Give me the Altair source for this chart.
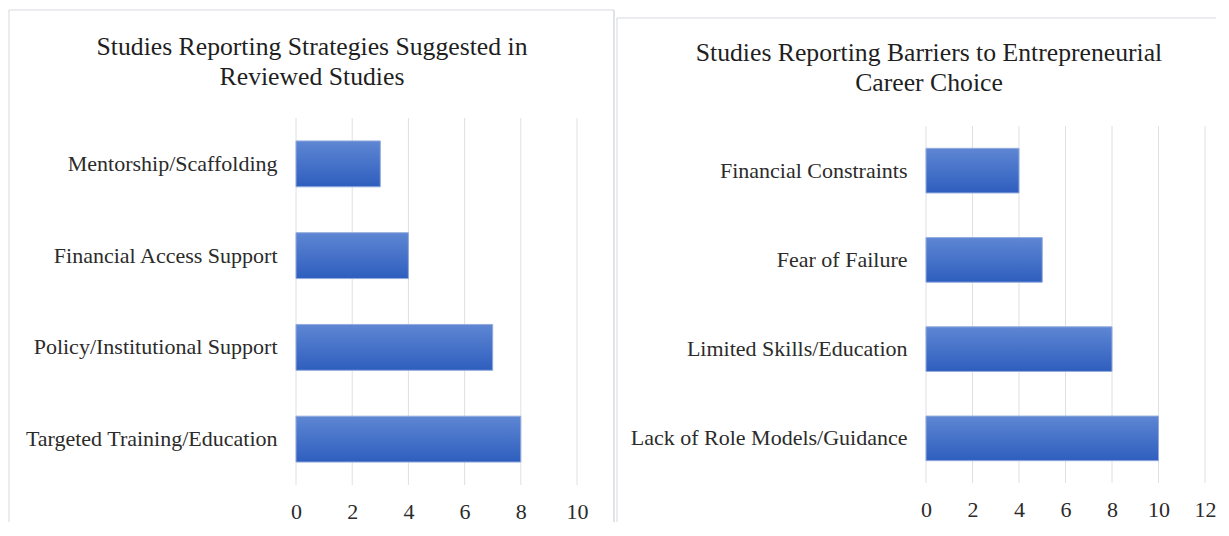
import altair as alt
import pandas as pd

# ---- data ----
strategy_cats = ["Mentorship/Scaffolding", "Financial Access Support",
                 "Policy/Institutional Support", "Targeted Training/Education"]
strategy_vals = [3, 4, 7, 8]

barrier_cats = ["Financial Constraints", "Fear of Failure",
                "Limited Skills/Education", "Lack of Role Models/Guidance"]
barrier_vals = [4, 5, 8, 10]

title_left = ["Studies Reporting Strategies Suggested in", "Reviewed Studies"]
title_right = ["Studies Reporting Barriers to Entrepreneurial", "Career Choice"]

left_ticks = [0, 2, 4, 6, 8, 10]
right_ticks = [0, 2, 4, 6, 8, 10, 12]

FONT = "Liberation Serif"
TXT = "#2B2B2B"
GRID = "#DCE0E7"
BORDER = "#D6D9DE"

grad = alt.Gradient(
    gradient="linear",
    stops=[alt.GradientStop(color="#5E86D3", offset=0),
           alt.GradientStop(color="#2E5EBE", offset=1)],
    x1=0, x2=0, y1=0, y2=1,
)

one = pd.DataFrame({"k": [0]})


def panel(cats, vals, ticks, xmax, w, h, gtop, title, tx, ty,
          bl, br, btop, bbottom, btop_inv=None):
    df = pd.DataFrame({"cat": cats, "val": vals})
    xscale = alt.Scale(domain=[0, xmax], nice=False)

    grid = alt.Chart(pd.DataFrame({"t": ticks})).mark_rule(
        color=GRID, strokeWidth=1
    ).encode(x=alt.X("t:Q", scale=xscale), y=alt.value(gtop), y2=alt.value(h))

    bars = alt.Chart(df).mark_bar(color=grad, stroke="#93ACDD", strokeWidth=1).encode(
        x=alt.X("val:Q", scale=xscale,
                axis=alt.Axis(values=ticks, title=None, domain=False, ticks=False,
                              grid=False,
                              labelFont=FONT, labelFontSize=22, labelColor=TXT,
                              labelPadding=16, labelFlush=False)),
        y=alt.Y("cat:N", sort=cats,
                scale=alt.Scale(paddingInner=0.5, paddingOuter=0.25,
                                range=[gtop, h]),
                axis=alt.Axis(title=None, domain=False, ticks=False, grid=False,
                              labelFont=FONT, labelFontSize=22, labelColor=TXT,
                              labelPadding=19, labelLimit=400)),
    )

    ttl = alt.Chart(one).mark_text(
        text=title, font=FONT, fontSize=25.7, color="#1F1F1F",
        align="center", baseline="alphabetic", lineHeight=29.5,
    ).encode(x=alt.value(tx), y=alt.value(ty))

    layers = [grid, bars, ttl]
    # panel frame lines
    layers.append(alt.Chart(one).mark_rule(color=BORDER, strokeWidth=1).encode(
        x=alt.value(bl), x2=alt.value(br if br is not None else 290), y=alt.value(btop)))
    layers.append(alt.Chart(one).mark_rule(color=BORDER, strokeWidth=1).encode(
        x=alt.value(bl), y=alt.value(btop), y2=alt.value(bbottom)))
    if br is not None:
        layers.append(alt.Chart(one).mark_rule(color=BORDER, strokeWidth=1.5).encode(
            x=alt.value(br), y=alt.value(btop), y2=alt.value(bbottom)))
    if btop_inv is not None:
        layers.append(alt.Chart(one).mark_rect(opacity=0).encode(
            x=alt.value(0), x2=alt.value(1), y=alt.value(btop_inv), y2=alt.value(0)))
    return alt.layer(*layers).properties(width=w, height=h)


left = panel(strategy_cats, strategy_vals, left_ticks, 10, 281, 367, 0, title_left,
             16, -63, -287, 318, -108, 404, -110)
right = panel(barrier_cats, barrier_vals, right_ticks, 12, 279, 365, 8, title_right,
              3, -57, -309, None, -100, 404)

chart = alt.hconcat(left, right, spacing=1).properties(
    padding=0, background="white"
).configure_view(strokeWidth=0)

chart.save("out.html", embed_options={"renderer": "svg", "actions": False})
